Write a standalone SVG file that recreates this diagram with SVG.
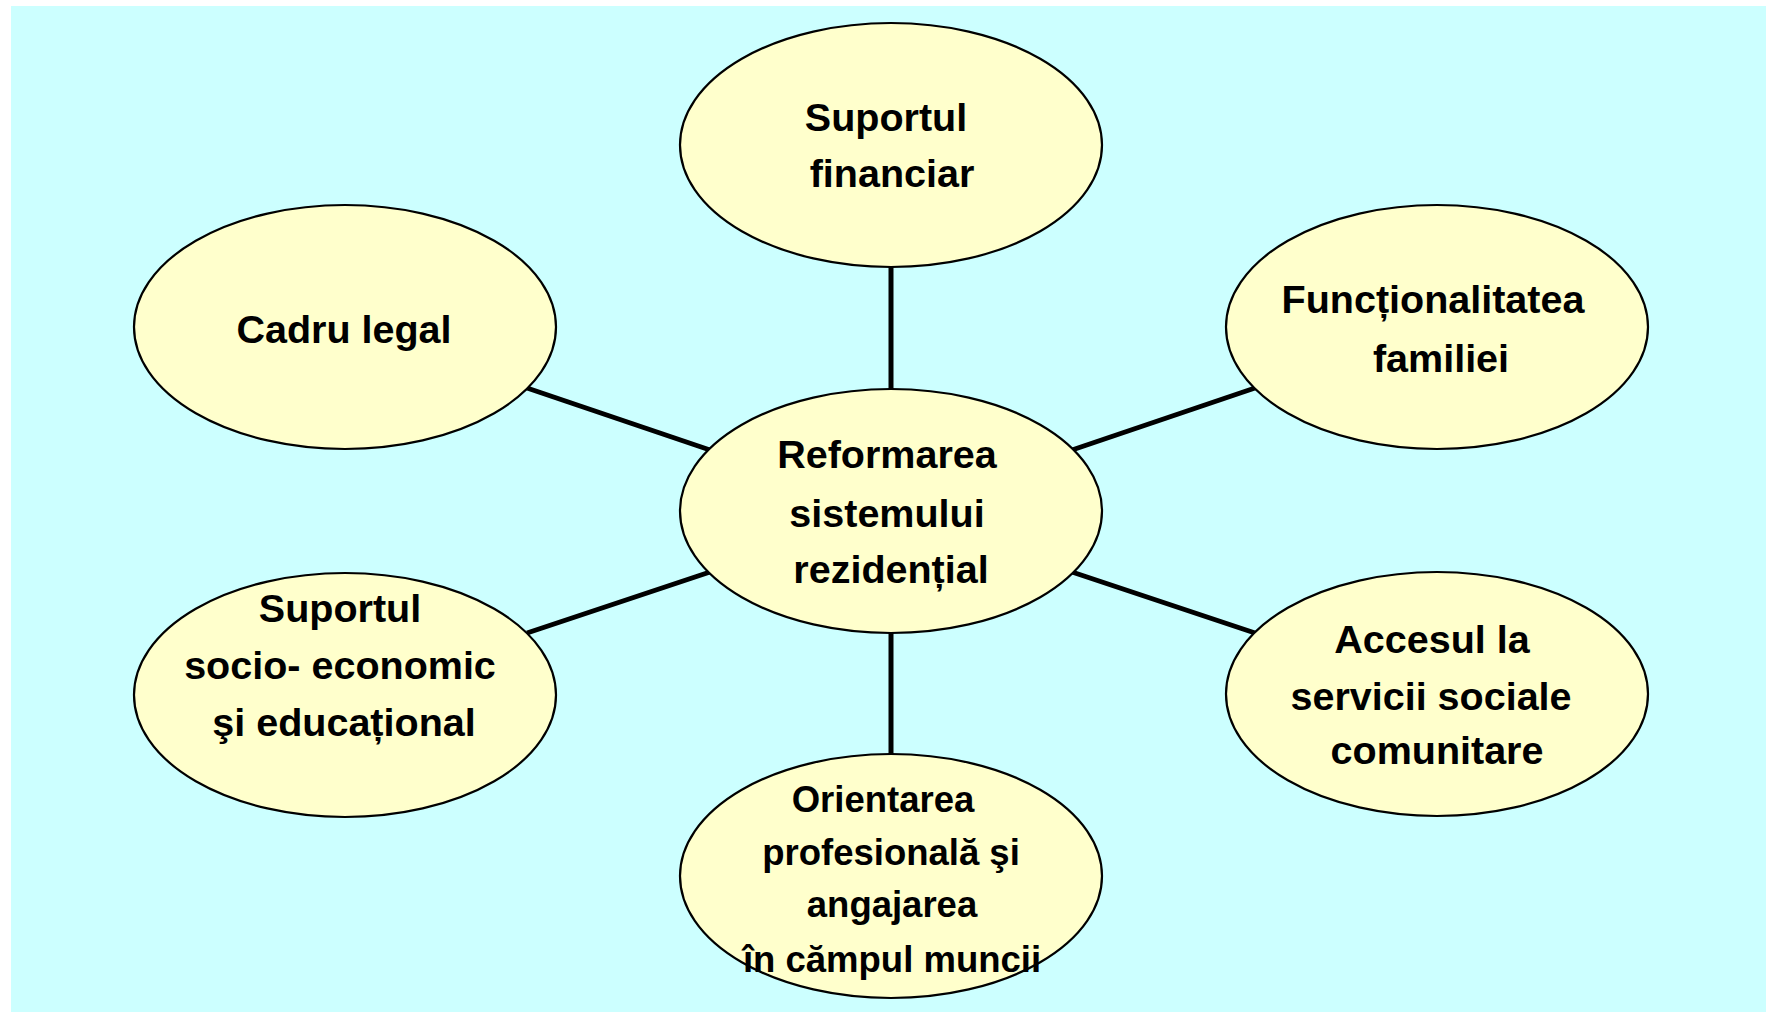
<svg xmlns="http://www.w3.org/2000/svg" width="1766" height="1012" viewBox="0 0 1766 1012">
<style>
.bg{fill:#CCFFFF}
.node ellipse{fill:#FFFFCC;stroke:#000;stroke-width:2.2}
.node text{font-family:"Liberation Sans",Arial,sans-serif;font-weight:bold;font-size:39.5px;fill:#000;text-anchor:middle}
.node.small text{font-size:36.5px}
#connectors line{stroke:#000;stroke-width:5;stroke-linecap:butt}
</style>
<rect class="bg" x="0" y="0" width="1766" height="1012" fill="#fff" style="fill:#fff"/>
<rect class="bg" x="11" y="6" width="1755" height="1006"/>
<g id="connectors">
<line x1="891" y1="267" x2="891" y2="391"/>
<line x1="891" y1="633" x2="891" y2="755"/>
<line x1="527" y1="388" x2="710" y2="450"/>
<line x1="1255" y1="388" x2="1072" y2="450"/>
<line x1="527" y1="633" x2="710" y2="572"/>
<line x1="1255" y1="633" x2="1072" y2="572"/>
</g>
<g id="node-center" class="node">
<ellipse cx="891" cy="511" rx="211" ry="122"/>
<text x="887" y="468">Reformarea</text>
<text x="887" y="527">sistemului</text>
<text x="891" y="583">rezidențial</text>
</g>
<g id="node-financiar" class="node">
<ellipse cx="891" cy="145" rx="211" ry="122"/>
<text x="886" y="131">Suportul</text>
<text x="892" y="187">financiar</text>
</g>
<g id="node-cadru" class="node">
<ellipse cx="345" cy="327" rx="211" ry="122"/>
<text x="344" y="343">Cadru legal</text>
</g>
<g id="node-familie" class="node">
<ellipse cx="1437" cy="327" rx="211" ry="122"/>
<text x="1433" y="313">Funcționalitatea</text>
<text x="1441" y="372">familiei</text>
</g>
<g id="node-socio" class="node">
<ellipse cx="345" cy="695" rx="211" ry="122"/>
<text x="340" y="622">Suportul</text>
<text x="340" y="679">socio- economic</text>
<text x="344" y="736">şi educațional</text>
</g>
<g id="node-acces" class="node">
<ellipse cx="1437" cy="694" rx="211" ry="122"/>
<text x="1432" y="653">Accesul la</text>
<text x="1431" y="710">servicii sociale</text>
<text x="1437" y="764">comunitare</text>
</g>
<g id="node-orientare" class="node small">
<ellipse cx="891" cy="876" rx="211" ry="122"/>
<text x="883" y="812">Orientarea</text>
<text x="891" y="865">profesională şi</text>
<text x="892" y="917">angajarea</text>
<text x="892" y="972">în cămpul muncii</text>
</g>
</svg>
